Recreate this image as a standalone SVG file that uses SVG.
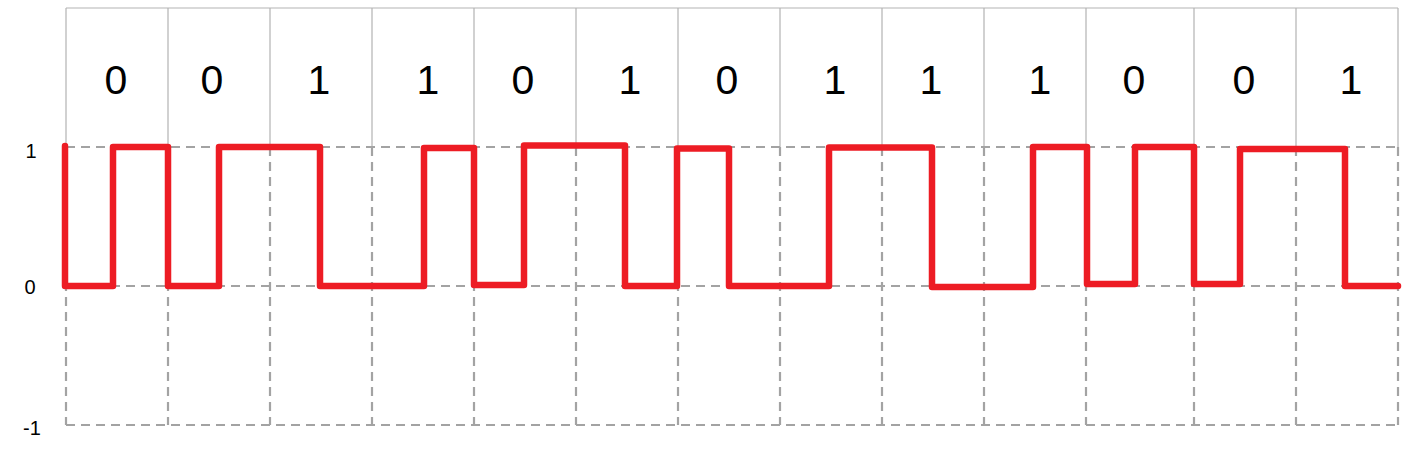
<svg xmlns="http://www.w3.org/2000/svg" width="1410" height="449" viewBox="0 0 1410 449">
<style>
.solid{stroke:#b3b3b3;stroke-width:1.2;fill:none}
.dash{stroke:#a3a3a3;stroke-width:2.2;stroke-dasharray:9 6;fill:none}
.bit{font-family:"Liberation Sans",Arial,sans-serif;font-size:41px;fill:#000;text-anchor:middle}
.axis{font-family:"Liberation Sans",Arial,sans-serif;font-size:20px;fill:#000;text-anchor:middle}
.sig{stroke:#ed1c24;stroke-width:6.5;fill:none;stroke-linejoin:round;stroke-linecap:round}
</style>
<rect width="1410" height="449" fill="#fff"/>
<g id="grid">
<path class="solid" d="M66,8H1398M66,8V147M168,8V147M270,8V147M372,8V147M474,8V147M576,8V147M678,8V147M780,8V147M882,8V147M984,8V147M1086,8V147M1194,8V147M1296,8V147M1398,8V147"/>
<path class="dash" d="M66,147H1398M66,286H1398M66,425H1398"/>
<path class="dash" d="M66,147V425M168,147V425M270,147V425M372,147V425M474,147V425M576,147V425M678,147V425M780,147V425M882,147V425M984,147V425M1086,147V425M1194,147V425M1296,147V425M1398,147V425"/>
</g>
<g id="bits">
<text class="bit" x="116" y="94">0</text>
<text class="bit" x="212" y="94">0</text>
<text class="bit" x="319" y="94">1</text>
<text class="bit" x="428" y="94">1</text>
<text class="bit" x="523" y="94">0</text>
<text class="bit" x="630" y="94">1</text>
<text class="bit" x="727" y="94">0</text>
<text class="bit" x="835" y="94">1</text>
<text class="bit" x="931" y="94">1</text>
<text class="bit" x="1040" y="94">1</text>
<text class="bit" x="1134" y="94">0</text>
<text class="bit" x="1244" y="94">0</text>
<text class="bit" x="1351" y="94">1</text>
</g>
<g id="axis">
<text class="axis" x="31" y="158">1</text>
<text class="axis" x="30" y="294">0</text>
<text class="axis" x="32" y="435">-1</text>
</g>
<g id="connectors">
<path class="sig" d="M65,146V286H113V147H168V286H219V147H320V286H424V148H474V285H524V145.5H625V286H677V148.5H729V286H829V147.5H932V287H1033V147H1087V284H1135V147H1194V284H1240V149H1345V286H1398"/>
</g>
</svg>
